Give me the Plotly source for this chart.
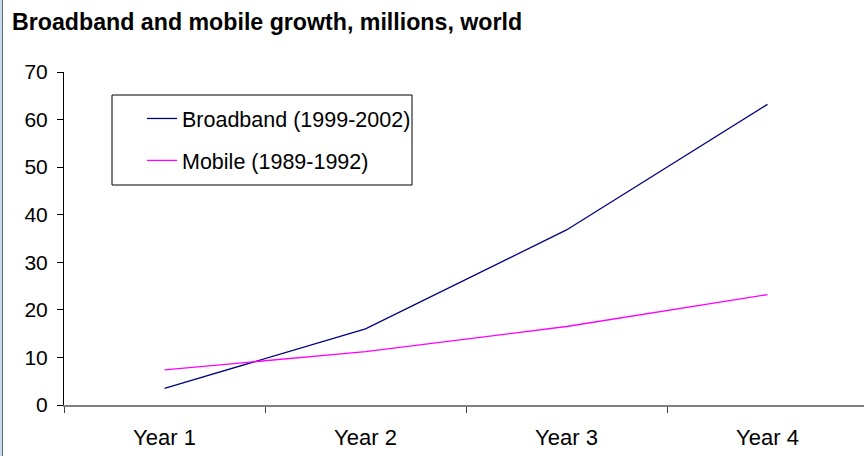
import plotly.graph_objects as go

categories = ["Year 1", "Year 2", "Year 3", "Year 4"]
broadband = [3.5, 16.0, 36.8, 63.2]
mobile = [7.4, 11.2, 16.5, 23.2]
series_names = ["Broadband (1999-2002)", "Mobile (1989-1992)"]
y_ticks = [0, 10, 20, 30, 40, 50, 60, 70]

W, H = 864, 456
L, R, T, B = 64, 0, 72, 51
PW, PH = W - L - R, H - T - B

def px(x):
    return (x - L) / PW

def py(y):
    return (H - B - y) / PH

FONT = "Arial, Liberation Sans, sans-serif"

fig = go.Figure()
fig.add_trace(go.Scatter(x=categories, y=broadband, mode="lines", name=series_names[0],
                         line=dict(color="#000080", width=1.3), legendgroup="a"))
fig.add_trace(go.Scatter(x=categories, y=mobile, mode="lines", name=series_names[1],
                         line=dict(color="#FF00FF", width=1.3), legendgroup="b"))

shapes = [
    # legend box
    dict(type="rect", xref="paper", yref="paper", x0=px(112), x1=px(412), y0=py(185), y1=py(95),
         line=dict(color="black", width=1), fillcolor="rgba(0,0,0,0)", layer="below"),
    # left window edge
    dict(type="rect", xref="paper", yref="paper", x0=px(0), x1=px(2), y0=py(H), y1=py(0),
         line=dict(width=0), fillcolor="#c9d9ec", layer="above"),
    dict(type="line", xref="paper", yref="paper", x0=px(2.5), x1=px(2.5), y0=py(H), y1=py(0),
         line=dict(color="#5a6a80", width=1), layer="above"),
]

fig.update_layout(
    width=W, height=H,
    margin=dict(l=L, r=R, t=T, b=B),
    paper_bgcolor="white", plot_bgcolor="white",
    font=dict(family=FONT, size=21, color="black"),
    title=dict(text="<b>Broadband and mobile growth, millions, world</b>",
               x=12 / W, xref="container", xanchor="left",
               y=1 - 22 / H, yref="container", yanchor="middle",
               font=dict(family=FONT, size=23.2, color="black")),
    showlegend=True,
    legend=dict(x=px(142), y=py(98), xanchor="left", yanchor="top",
                bgcolor="rgba(0,0,0,0)", borderwidth=0,
                font=dict(family=FONT, size=21.5, color="black"),
                tracegroupgap=11, traceorder="grouped"),
    shapes=shapes,
    xaxis=dict(type="category", range=[-0.5, 3.48], showgrid=False, zeroline=False,
               showline=True, linecolor="#808080", linewidth=1.5,
               ticks="outside", tickson="boundaries", ticklen=6, tickcolor="#404040",
               ticklabelstandoff=12,
               tickfont=dict(family=FONT, size=22, color="black"), fixedrange=True),
    yaxis=dict(range=[0, 70], tickvals=y_ticks, showgrid=False, zeroline=False,
               showline=True, linecolor="black", linewidth=1,
               ticks="outside", ticklen=6, tickcolor="black",
               ticklabelstandoff=5,
               tickfont=dict(family=FONT, size=21, color="black"), fixedrange=True),
)

fig.write_html("out.html", config={"displayModeBar": False},
               post_script="document.body.style.margin='0px';document.body.style.overflow='hidden';")
